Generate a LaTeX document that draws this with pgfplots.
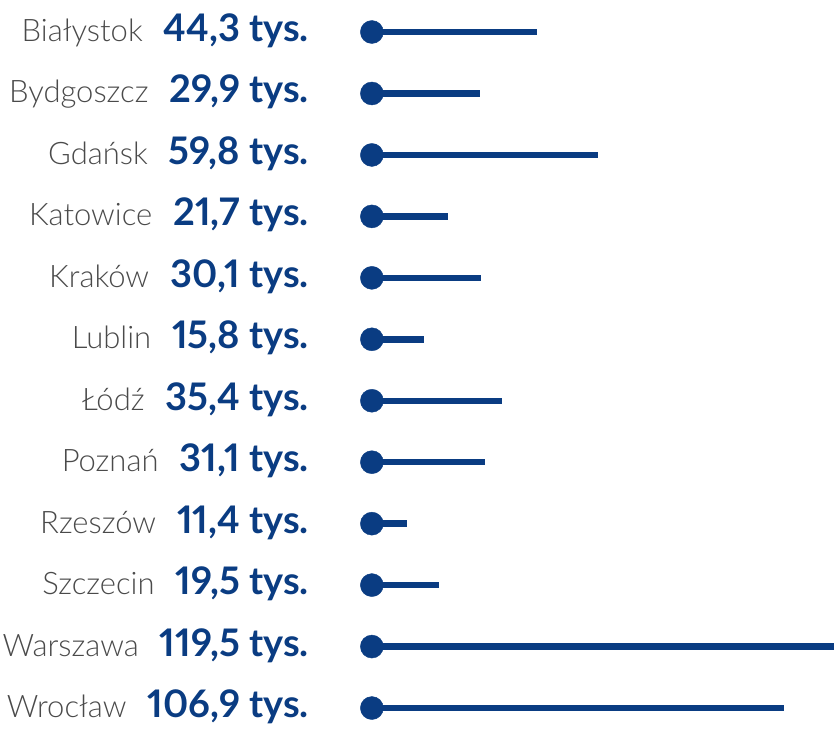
\documentclass[border=0pt]{standalone}
\usepackage{fontspec}
\setmainfont{Lato}[Numbers=Proportional]
\newfontfamily\namefont{Lato Light}
\usepackage{pgfplots}
\usepackage{pgfplotstable}
\pgfplotsset{compat=1.18}
\definecolor{navy}{HTML}{0A3C82}
\definecolor{namegray}{HTML}{4A4A4A}

\newcommand\lab[2]{{\color{namegray}\fontsize{31}{31}\namefont #1}\hspace{21pt}{\color{navy}\fontsize{38}{38}\selectfont\bfseries #2 tys.}}

% idx, value (tys.), dot position
\pgfplotstableread{
idx val dot
1  44.3  2.5
2  29.9  2.5
3  59.8  2.5
4  21.7  2.5
5  30.1  2.5
6  15.8  2.5
7  35.4  2.5
8  31.1  2.5
9  11.4  2.5
10 19.5  2.5
11 119.5 2.5
12 106.9 2.5
}\cities

\begin{document}
\begin{tikzpicture}
\begin{axis}[name=ax,scale only axis,width=472pt,height=731pt,
 xmin=0,xmax=119.5,ymin=0.479,ymax=12.374,y dir=reverse,
 axis line style={draw=none},major tick length=0pt,
 xtick=\empty,ytick={1,...,12},
 yticklabels={{\lab{Białystok}{44,3}},{\lab{Bydgoszcz}{29,9}},{\lab{Gdańsk}{59,8}},
  {\lab{Katowice}{21,7}},{\lab{Kraków}{30,1}},{\lab{Lublin}{15,8}},{\lab{Łódź}{35,4}},
  {\lab{Poznań}{31,1}},{\lab{Rzeszów}{11,4}},{\lab{Szczecin}{19,5}},
  {\lab{Warszawa}{119,5}},{\lab{Wrocław}{106,9}}},
 yticklabel style={anchor=base east,inner sep=0pt,xshift=-53pt,yshift=-9.5pt},
 clip=false]
\addplot[xcomb,draw=navy,line width=6.5pt,mark=none] table[x=val,y=idx] {\cities};
\addplot[only marks,mark=*,mark size=11.5pt,color=navy] table[x=dot,y=idx] {\cities};
\end{axis}
\pgfresetboundingbox
\path[use as bounding box] ([xshift=-362pt]ax.south west) rectangle (ax.north east);
\end{tikzpicture}
\end{document}
